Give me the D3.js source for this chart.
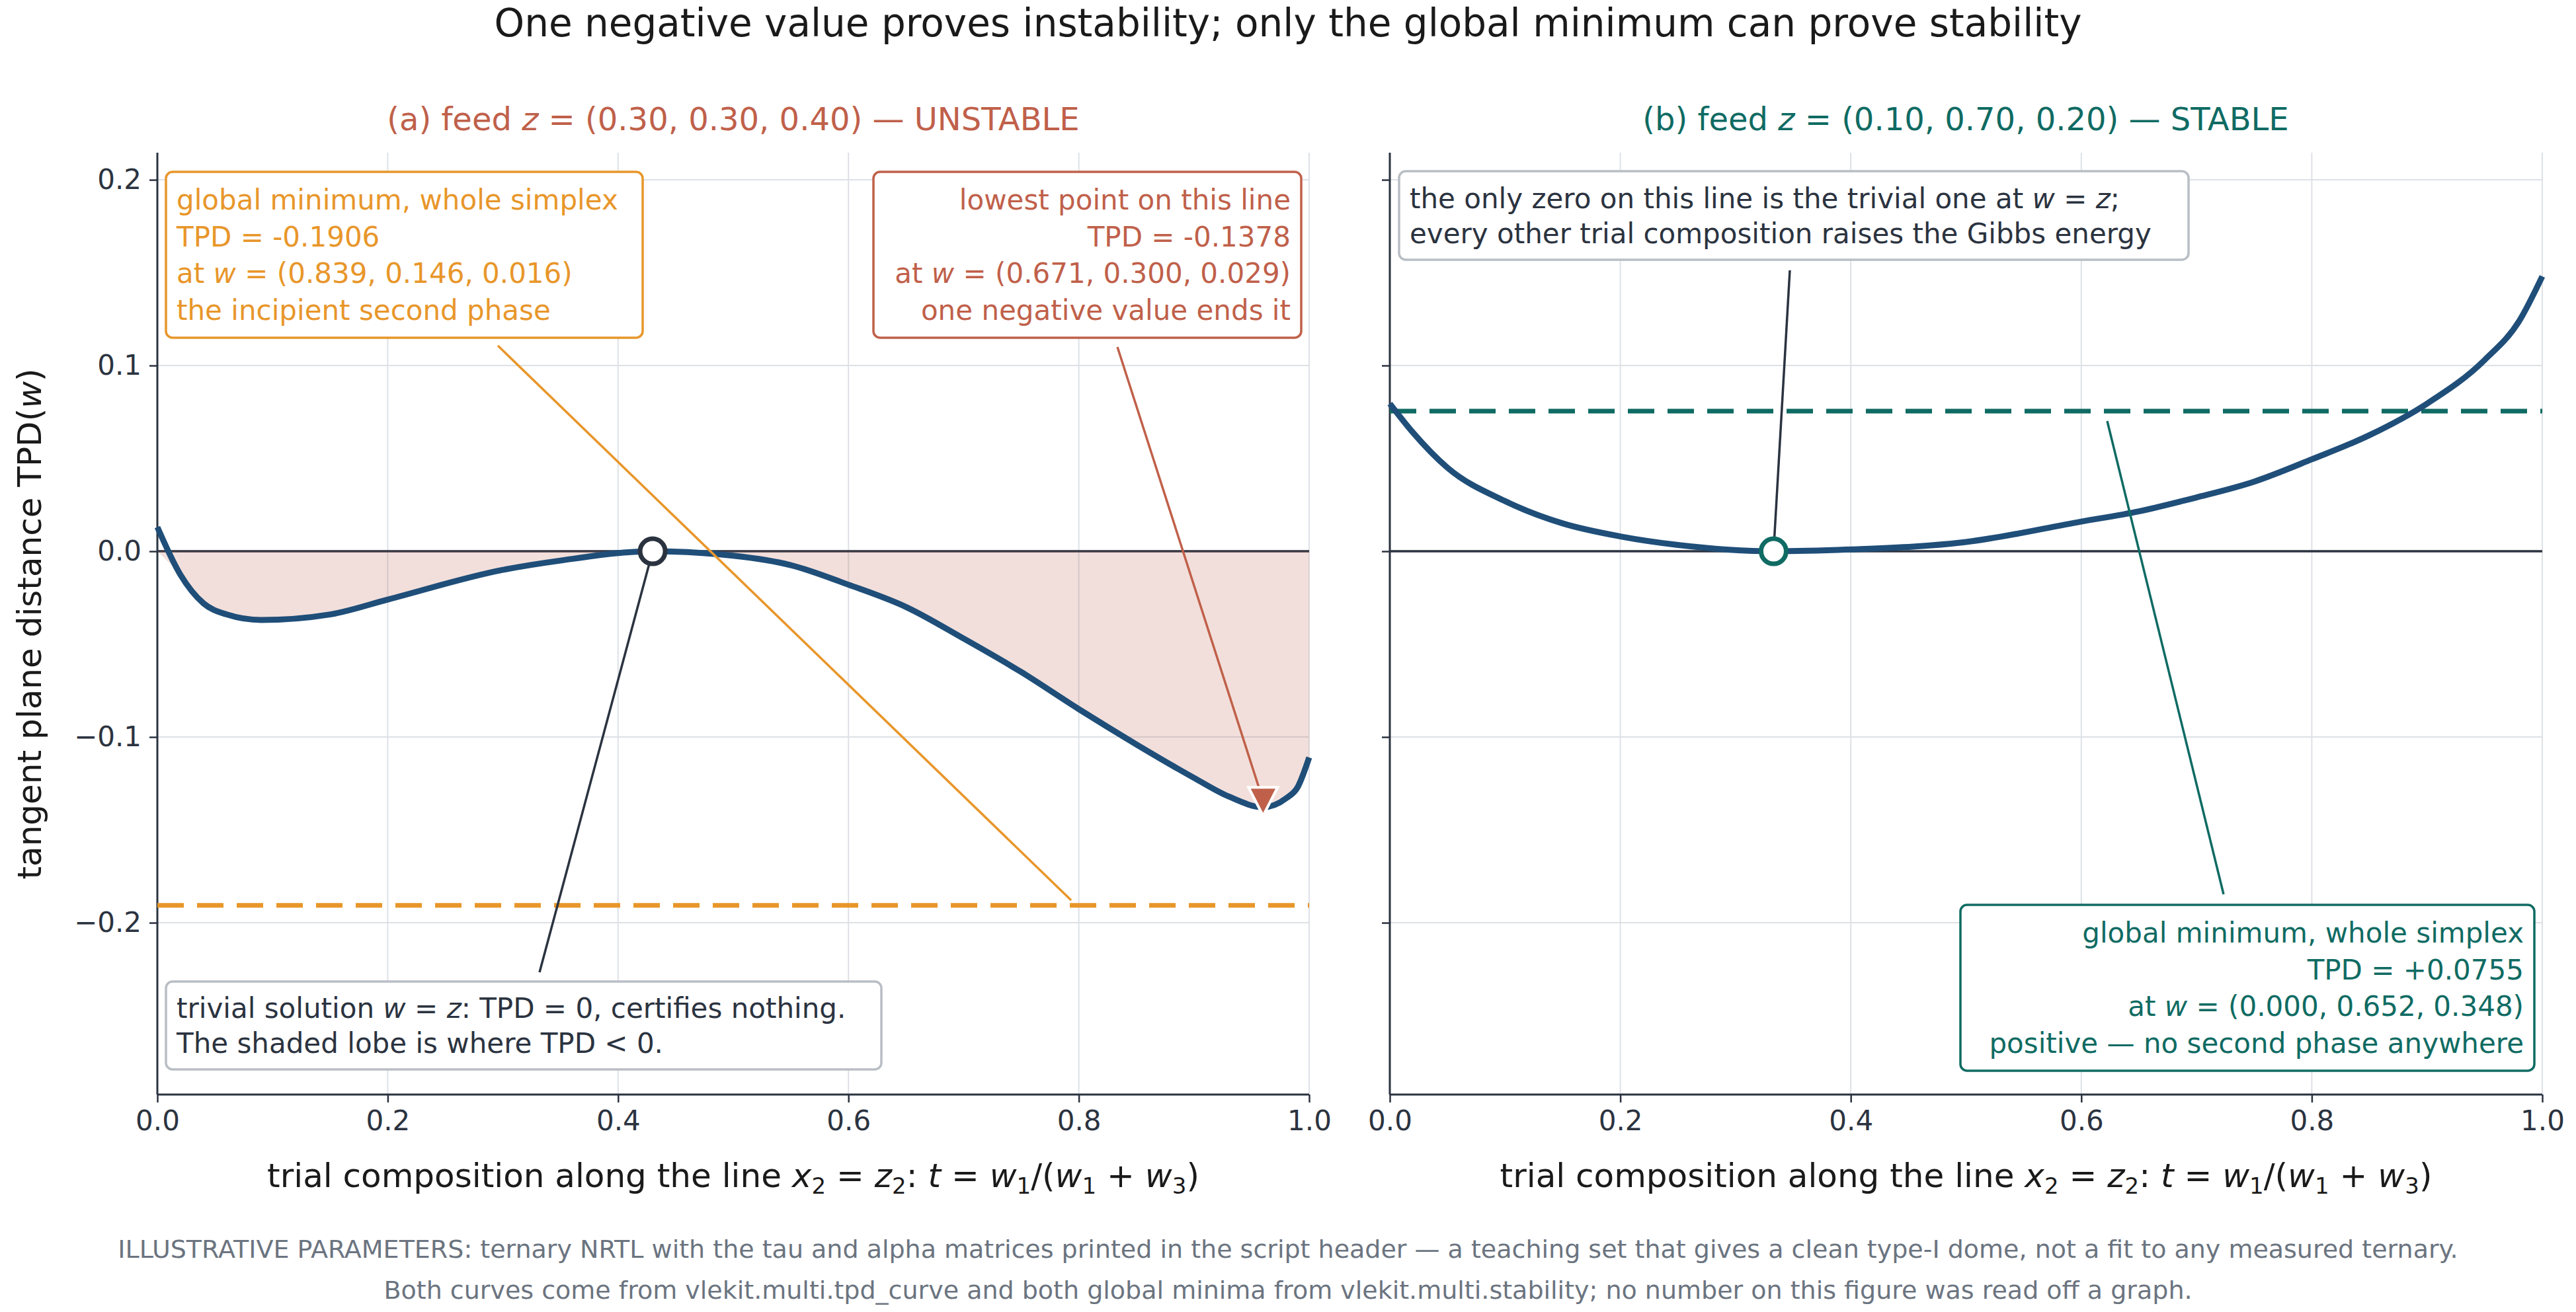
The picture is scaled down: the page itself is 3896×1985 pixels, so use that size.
<!DOCTYPE html>
<html><head><meta charset="utf-8">
<script src="https://cdn.jsdelivr.net/npm/d3@7"></script>
<style>body{margin:0;background:#fff}svg{font-family:"DejaVu Sans",sans-serif}</style>
</head><body><svg id="c" width="3896" height="1985"></svg>
<script>
const tA=[0,0.02,0.04,0.06,0.09,0.15,0.2,0.3,0.35,0.43,0.5,0.55,0.6,0.65,0.7,0.75,0.8,0.85,0.9,0.93,0.96,0.98,0.99,1.0];
const tpdA=[0.013,-0.0126,-0.028,-0.034,-0.037,-0.034,-0.026,-0.010,-0.005,0,-0.0024,-0.0075,-0.018,-0.030,-0.047,-0.065,-0.085,-0.104,-0.122,-0.132,-0.1378,-0.133,-0.127,-0.111];
const tB=[0,0.02,0.05,0.1,0.15,0.2,0.25,0.333,0.4,0.5,0.6,0.65,0.7,0.75,0.8,0.85,0.9,0.95,0.98,1.0];
const tpdB=[0.0795,0.064,0.045,0.027,0.015,0.008,0.0034,0,0.001,0.005,0.016,0.0215,0.029,0.0375,0.0495,0.0625,0.0795,0.103,0.124,0.148];
const xTicks=[0,0.2,0.4,0.6,0.8,1.0];
const yTicks=[-0.2,-0.1,0,0.1,0.2];
const globalMinA=-0.1906, lowestA={t:0.96,v:-0.1378}, trivialA=0.43;
const globalMinB=0.0755, trivialB=0.333;

const C={curve:"#1f4e79",orange:"#e8962a",red:"#c0604a",teal:"#0f6b63",dark:"#2b3340",grid:"#dde1e6",gray:"#b9bec5"};
const svg=d3.select("#c");
const y=d3.scaleLinear().domain([-0.2925,0.2146]).range([1656,231]);
const xa=d3.scaleLinear().domain([0,1]).range([238,1980]);
const xb=d3.scaleLinear().domain([0,1]).range([2102,3845]);
const fmtY=d=>(d<0?"\u2212":"")+Math.abs(d).toFixed(1);

function panel(x,showY){
  const g=svg.append("g");
  xTicks.forEach(t=>g.append("line").attr("x1",x(t)).attr("x2",x(t)).attr("y1",y.range()[1]).attr("y2",y.range()[0]).attr("stroke",C.grid).attr("stroke-width",2));
  yTicks.forEach(t=>g.append("line").attr("x1",x.range()[0]).attr("x2",x.range()[1]).attr("y1",y(t)).attr("y2",y(t)).attr("stroke",C.grid).attr("stroke-width",2));
  const ax=g.append("g").attr("transform",`translate(0,${y.range()[0]})`).call(d3.axisBottom(x).tickValues(xTicks).tickFormat(d3.format(".1f")).tickSize(12).tickPadding(12));
  const ay=g.append("g").attr("transform",`translate(${x.range()[0]},0)`).call(d3.axisLeft(y).tickValues(yTicks).tickFormat(showY?fmtY:"").tickSize(12).tickPadding(12));
  [ax,ay].forEach(a=>{a.select(".domain").attr("stroke",C.dark).attr("stroke-width",3);a.selectAll(".tick line").attr("stroke",C.dark).attr("stroke-width",2.5);a.selectAll("text").attr("font-size",42).attr("fill",C.dark).attr("font-family","DejaVu Sans");});
  ax.select(".domain").attr("d",`M${x.range()[0]},0H${x.range()[1]}`);
  ay.select(".domain").attr("d",`M0,${y.range()[0]}V${y.range()[1]}`);
  g.append("line").attr("x1",x.range()[0]).attr("x2",x.range()[1]).attr("y1",y(0)).attr("y2",y(0)).attr("stroke",C.dark).attr("stroke-width",3.5);
  // x label
  const xl=g.append("text").attr("x",(x.range()[0]+x.range()[1])/2).attr("y",1796).attr("text-anchor","middle").attr("font-size",50).attr("fill","#1a1a1a");
  xl.append("tspan").text("trial composition along the line ");
  xl.append("tspan").attr("font-style","italic").text("x");
  xl.append("tspan").attr("font-size",34).attr("dy",10).text("2");
  xl.append("tspan").attr("dy",-10).text(" = ");
  xl.append("tspan").attr("font-style","italic").text("z");
  xl.append("tspan").attr("font-size",34).attr("dy",10).text("2");
  xl.append("tspan").attr("dy",-10).text(":    ");
  xl.append("tspan").attr("font-style","italic").text("t");
  xl.append("tspan").text(" = ");
  xl.append("tspan").attr("font-style","italic").text("w");
  xl.append("tspan").attr("font-size",34).attr("dy",10).text("1");
  xl.append("tspan").attr("dy",-10).text("/(");
  xl.append("tspan").attr("font-style","italic").text("w");
  xl.append("tspan").attr("font-size",34).attr("dy",10).text("1");
  xl.append("tspan").attr("dy",-10).text(" + ");
  xl.append("tspan").attr("font-style","italic").text("w");
  xl.append("tspan").attr("font-size",34).attr("dy",10).text("3");
  xl.append("tspan").attr("dy",-10).text(")");
  return g;
}
const line=(x)=>d3.line().x(d=>x(d[0])).y(d=>y(d[1])).curve(d3.curveMonotoneX);

// titles
svg.append("text").attr("x",1948).attr("y",55).attr("text-anchor","middle").attr("font-size",58).attr("fill","#1a1a1a").text("One negative value proves instability; only the global minimum can prove stability");
function ptitle(cx,col,pre,z,post){
  const t=svg.append("text").attr("x",cx).attr("y",197).attr("text-anchor","middle").attr("font-size",48).attr("fill",col);
  t.append("tspan").text(pre);t.append("tspan").attr("font-style","italic").text("z");t.append("tspan").text(z+post);
}
ptitle(1109,C.red,"(a)  feed ","", " = (0.30, 0.30, 0.40)  \u2014  UNSTABLE");
ptitle(2973,C.teal,"(b)  feed ","", " = (0.10, 0.70, 0.20)  \u2014  STABLE");
svg.append("text").attr("transform","translate(62,944) rotate(-90)").attr("text-anchor","middle").attr("font-size",50).attr("fill","#1a1a1a")
 .call(t=>{t.append("tspan").text("tangent plane distance  TPD(");t.append("tspan").attr("font-style","italic").text("w");t.append("tspan").text(")");});

// Panel A
const gA=panel(xa,true);
const dA=tA.map((t,i)=>[t,tpdA[i]]);
gA.append("path").datum(dA).attr("d",d3.area().x(d=>xa(d[0])).y0(y(0)).y1(d=>y(Math.min(0,d[1]))).curve(d3.curveMonotoneX)).attr("fill",C.red).attr("opacity",0.2);
gA.append("line").attr("x1",xa(0)).attr("x2",xa(1)).attr("y1",y(globalMinA)).attr("y2",y(globalMinA)).attr("stroke",C.orange).attr("stroke-width",7).attr("stroke-dasharray","40,20");
gA.append("path").datum(dA).attr("d",line(xa)).attr("fill","none").attr("stroke",C.curve).attr("stroke-width",9);
// Panel B
const gB=panel(xb,false);
const dB=tB.map((t,i)=>[t,tpdB[i]]);
gB.append("line").attr("x1",xb(0)).attr("x2",xb(1)).attr("y1",y(globalMinB)).attr("y2",y(globalMinB)).attr("stroke",C.teal).attr("stroke-width",7).attr("stroke-dasharray","40,20");
gB.append("path").datum(dB).attr("d",line(xb)).attr("fill","none").attr("stroke",C.curve).attr("stroke-width",9);

// connectors
function conn(x1,y1,x2,y2,col,w){svg.append("line").attr("x1",x1).attr("y1",y1).attr("x2",x2).attr("y2",y2).attr("stroke",col).attr("stroke-width",w||3.5);}
conn(753,523,1620,1362,C.orange);
conn(1690,525,xa(lowestA.t),y(lowestA.v)-10,C.red);
conn(xa(trivialA),y(0),816,1471,C.dark);
conn(2707,409,xb(trivialB),y(0),C.dark);
conn(3187,637,3363,1353,C.teal);
// markers
const tx=xa(lowestA.t), ty=y(lowestA.v);
svg.append("path").attr("d",`M${tx-22},${ty-30}L${tx+22},${ty-30}L${tx},${ty+13}Z`).attr("fill",C.red).attr("stroke","#fff").attr("stroke-width",4);
svg.append("circle").attr("cx",xa(trivialA)).attr("cy",y(0)).attr("r",19).attr("fill","#fff").attr("stroke",C.dark).attr("stroke-width",7);
svg.append("circle").attr("cx",xb(trivialB)).attr("cy",y(0)).attr("r",19).attr("fill","#fff").attr("stroke",C.teal).attr("stroke-width",7);

// boxes
function box(x0,y0,x1,y1,col,lines,anchor){
  svg.append("rect").attr("x",x0).attr("y",y0).attr("width",x1-x0).attr("height",y1-y0).attr("rx",10).attr("fill","#fff").attr("stroke",col===C.dark?C.gray:col).attr("stroke-width",3.5);
  const lh=(y1-y0-28)/lines.length;
  lines.forEach((parts,i)=>{
    const t=svg.append("text").attr("x",anchor==="end"?x1-16:x0+16).attr("y",y0+14+lh*(i+0.5)+15).attr("text-anchor",anchor).attr("font-size",42).attr("fill",col);
    parts.forEach(p=>{const s=t.append("tspan").text(p[0]);if(p[1])s.attr("font-style","italic");});
  });
}
box(251,260,972,511,C.orange,[[["global minimum, whole simplex"]],[["TPD = -0.1906"]],[["at "],["w",1],[" = (0.839, 0.146, 0.016)"]],[["the incipient second phase"]]],"start");
box(1321,260,1968,511,C.red,[[["lowest point on this line"]],[["TPD = -0.1378"]],[["at "],["w",1],[" = (0.671, 0.300, 0.029)"]],[["one negative value ends it"]]],"end");
box(251,1485,1333,1618,C.dark,[[["trivial solution "],["w",1],[" = "],["z",1],[":  TPD  = 0, certifies nothing."]],[["The shaded lobe is where TPD  <  0."]]],"start");
box(2116,259,3310,393,C.dark,[[["the only zero on this line is the trivial one at "],["w",1],[" = "],["z",1],[";"]],[["every other trial composition raises the Gibbs energy"]]],"start");
box(2965,1369,3833,1620,C.teal,[[["global minimum, whole simplex"]],[["TPD = +0.0755"]],[["at "],["w",1],[" = (0.000, 0.652, 0.348)"]],[["positive \u2014 no second phase anywhere"]]],"end");

// footer
svg.append("text").attr("x",1948).attr("y",1903).attr("text-anchor","middle").attr("font-size",38).attr("fill","#6b7480").text("ILLUSTRATIVE PARAMETERS: ternary NRTL with the tau and alpha matrices printed in the script header \u2014 a teaching set that gives a clean type-I dome, not a fit to any measured ternary.");
svg.append("text").attr("x",1948).attr("y",1965).attr("text-anchor","middle").attr("font-size",38).attr("fill","#6b7480").text("Both curves come from vlekit.multi.tpd_curve and both global minima from vlekit.multi.stability; no number on this figure was read off a graph.");
</script></body></html>
